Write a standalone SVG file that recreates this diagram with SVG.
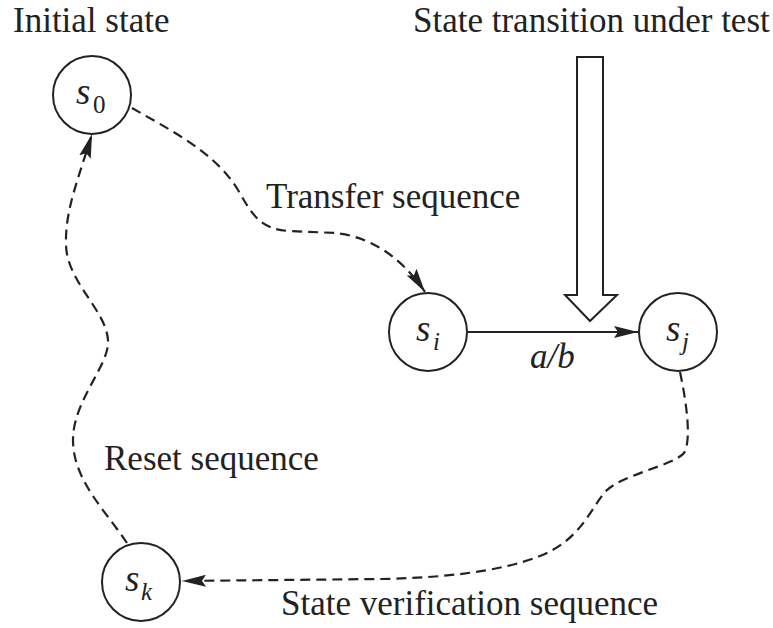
<svg xmlns="http://www.w3.org/2000/svg" width="773" height="628" viewBox="0 0 773 628">
  <style>
    .node { fill: #fff; stroke: #222; stroke-width: 2; }
    .lbl { font-family: "Liberation Serif", "Times New Roman", serif; fill: #222; }
    .cap { font-size: 35px; }
    .sym { font-size: 37px; font-style: italic; }
    .sub { font-size: 25px; }
    .dash { fill: none; stroke: #222; stroke-width: 2.2; stroke-dasharray: 10 6; }
    .solid { fill: none; stroke: #222; stroke-width: 2; }
  </style>
  <defs>
    <marker id="head" viewBox="0 0 24 12" refX="24" refY="6" markerWidth="24" markerHeight="12" markerUnits="userSpaceOnUse" orient="auto">
      <path d="M0,0 L24,6 L0,12 L4,6 Z" fill="#222"/>
    </marker>
  </defs>

  <!-- captions -->
  <text class="lbl cap" x="13" y="32">Initial state</text>
  <text class="lbl cap" x="413" y="32">State transition under test</text>
  <text class="lbl cap" x="266" y="208">Transfer sequence</text>
  <text class="lbl cap" x="104" y="470">Reset sequence</text>
  <text class="lbl cap" x="281" y="615">State verification sequence</text>

  <!-- connectors -->
  <g id="connectors">
    <path class="dash" marker-end="url(#head)" d="M132,108 C170,130 215,152 238,190 C250,210 258,230 290,231 L335,233 C365,236 398,252 425,292"/>
    <path class="solid" marker-end="url(#head)" d="M468,332 L638,332"/>
    <path class="dash" marker-end="url(#head)" d="M680,372 C686,400 692,440 684,453 C675,465 620,475 605,492 C590,510 580,540 540,556 C500,572 440,578 380,579 L182,581"/>
    <path class="dash" marker-end="url(#head)" d="M127,543 C105,510 73,480 73,440 C73,400 110,365 108,340 C106,310 67,282 66,245 C65,210 78,180 92,134"/>
    <!-- hollow arrow marking the transition under test -->
    <polygon class="solid" fill="#fff" points="577,57 603,57 603,295 617,295 590,321 565,295 577,295"/>
  </g>

  <!-- states -->
  <g id="s0">
    <circle class="node" cx="92" cy="95" r="39"/>
    <text class="lbl sym" x="76" y="104">s</text>
    <text class="lbl sub" x="93" y="113">0</text>
  </g>
  <g id="si">
    <circle class="node" cx="428" cy="332" r="39"/>
    <text class="lbl sym" x="416" y="341">s</text>
    <text class="lbl sub" x="433" y="350" font-style="italic">i</text>
  </g>
  <g id="sj">
    <circle class="node" cx="678" cy="332" r="39"/>
    <text class="lbl sym" x="666" y="341">s</text>
    <text class="lbl sub" x="682" y="350" font-style="italic">j</text>
  </g>
  <g id="sk">
    <circle class="node" cx="141" cy="582" r="39"/>
    <text class="lbl sym" x="125" y="591">s</text>
    <text class="lbl sub" x="141" y="600" font-style="italic">k</text>
  </g>

  <!-- transition label -->
  <text class="lbl sym" x="530" y="368" style="font-size:35px">a/b</text>
</svg>
